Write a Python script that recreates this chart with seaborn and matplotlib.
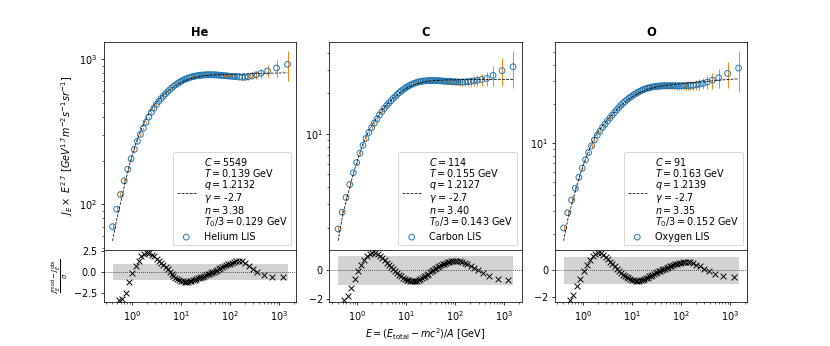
import numpy as np
import pandas as pd
import matplotlib
matplotlib.use("Agg")
import matplotlib.pyplot as plt
import seaborn as sns

# Kinetic energy per nucleon of the data points (GeV/n), shared by all panels
energy = [0.448, 0.539, 0.641, 0.758, 0.890, 1.035, 1.198, 1.377, 1.575, 1.795,
          2.036, 2.298, 2.584, 2.896, 3.234, 3.600, 3.997, 4.425, 4.893, 5.387,
          5.907, 6.477, 7.097, 7.768, 8.489, 9.261, 10.08, 10.98, 11.95, 12.97,
          14.07, 15.25, 16.49, 17.84, 19.29, 20.84, 22.49, 24.26, 26.16, 28.18,
          30.36, 32.71, 35.23, 37.93, 40.83, 43.95, 47.33, 51.08, 55.08, 59.33,
          64.08, 69.57, 75.82, 82.82, 90.82, 99.82, 110.1, 122.1, 136.6, 154.3,
          176.3, 204.1, 240.6, 291.1, 365.3, 487.1, 731.6, 1199.1]
# outer bin edges (for the +-1 sigma band)
band_energy = [0.406, 1499.1]

elements = ["He", "C", "O"]
lis_names = ["Helium LIS", "Carbon LIS", "Oxygen LIS"]

# fit parameters
fit_C = [5549, 114, 91]
fit_T = [0.139, 0.155, 0.163]
fit_q = [1.2132, 1.2127, 1.2139]
fit_gamma = [-2.7, -2.7, -2.7]
fit_n = [3.38, 3.40, 3.35]
fit_T0 = [0.129, 0.143, 0.152]

# model J_E * E^2.7
he_model = [56, 78, 102, 132, 167, 205, 244, 282, 318, 353,
            388, 420, 450, 477, 502, 525, 546, 565, 583, 599,
            614, 629, 643, 656, 668, 679, 690, 700, 709, 717,
            725, 732, 738, 744, 749, 753, 757, 761, 764, 767,
            769, 771, 773, 774.5, 776, 777, 778, 779, 779.5, 780,
            780.5, 781, 782, 782.5, 783, 784, 784.5, 785.5, 786.5, 787.5,
            789, 790.5, 792, 794, 796, 798, 800, 803]
c_model = [1.60, 2.37, 3.12, 4.01, 5.03, 6.10, 7.25, 8.38, 9.50, 10.55,
           11.50, 12.40, 13.25, 14.15, 14.95, 15.70, 16.45, 17.10, 17.75, 18.40,
           18.95, 19.55, 20.10, 20.60, 21.05, 21.50, 21.90, 22.30, 22.65, 22.95,
           23.25, 23.50, 23.72, 23.92, 24.10, 24.25, 24.38, 24.50, 24.60, 24.68,
           24.76, 24.82, 24.88, 24.93, 24.98, 25.02, 25.06, 25.09, 25.12, 25.14,
           25.16, 25.18, 25.20, 25.21, 25.22, 25.23, 25.24, 25.25, 25.26, 25.27,
           25.28, 25.29, 25.30, 25.31, 25.32, 25.33, 25.34, 25.35]
o_model = [1.78, 2.59, 3.35, 4.28, 5.34, 6.40, 7.55, 8.69, 9.85, 11.0,
           11.95, 12.8, 13.65, 14.4, 15.15, 15.9, 16.62, 17.32, 18.05, 18.75,
           19.4, 20.05, 20.65, 21.2, 21.75, 22.25, 22.75, 23.22, 23.66, 24.08,
           24.48, 24.86, 25.2, 25.52, 25.82, 26.08, 26.33, 26.56, 26.77, 26.96,
           27.12, 27.27, 27.4, 27.52, 27.64, 27.74, 27.84, 27.94, 28.03, 28.12,
           28.21, 28.3, 28.39, 28.52, 28.63, 28.75, 28.87, 29.0, 29.12, 29.24,
           29.36, 29.5, 29.65, 29.85, 30.1, 30.45, 30.8, 31.2]

# uncertainties of the LIS points
he_err = [3.9, 4.3, 4.6, 5.3, 5.8, 6.6, 7.3, 7.9, 8.3, 8.8,
          9.3, 9.7, 9.9, 10.5, 10.8, 11.0, 11.2, 11.5, 11.8, 12.1,
          12.4, 12.7, 13.0, 13.3, 13.6, 14.0, 14.3, 14.6, 14.9, 15.2,
          15.5, 15.8, 16.1, 16.4, 16.7, 17.0, 17.3, 17.6, 17.9, 18.2,
          18.5, 18.8, 19.1, 19.4, 19.7, 20.0, 20.4, 20.8, 21.2, 21.6,
          22.0, 22.5, 23.0, 23.6, 24.2, 25.0, 26.0, 27.0, 28.5, 30,
          32, 35, 40, 46, 55, 80, 120, 210]
c_err = [0.098, 0.118, 0.134, 0.155, 0.175, 0.195, 0.215, 0.24, 0.26, 0.28,
         0.30, 0.32, 0.34, 0.36, 0.38, 0.40, 0.42, 0.44, 0.46, 0.48,
         0.50, 0.52, 0.54, 0.56, 0.58, 0.60, 0.62, 0.64, 0.66, 0.67,
         0.68, 0.70, 0.72, 0.74, 0.76, 0.77, 0.78, 0.79, 0.80, 0.82,
         0.85, 0.88, 0.91, 0.94, 0.97, 1.0, 1.03, 1.06, 1.1, 1.14,
         1.18, 1.22, 1.27, 1.32, 1.37, 1.42, 1.48, 1.55, 1.62, 1.7,
         1.8, 2.0, 2.2, 2.6, 3.1, 4.5, 6.9, 9.5]
o_err = [0.13, 0.15, 0.17, 0.19, 0.21, 0.23, 0.25, 0.27, 0.29, 0.31,
         0.33, 0.35, 0.37, 0.39, 0.41, 0.43, 0.45, 0.47, 0.49, 0.51,
         0.53, 0.55, 0.57, 0.59, 0.61, 0.63, 0.65, 0.67, 0.69, 0.71,
         0.75, 0.8, 0.85, 0.9, 0.95, 1.0, 1.04, 1.08, 1.12, 1.16,
         1.2, 1.25, 1.3, 1.35, 1.4, 1.45, 1.5, 1.55, 1.6, 1.65,
         1.7, 1.75, 1.8, 1.85, 1.9, 1.95, 2.0, 2.1, 2.2, 2.3,
         2.45, 2.7, 2.9, 3.4, 4.2, 5.5, 7.8, 13.0]

# residuals (model - obs) / sigma ; first bin is not part of the fit
he_resid = [-3.6, -3.35, -3.2, -2.5, -1.2, -0.1, 0.75, 1.35, 1.85, 2.2,
            2.3, 2.25, 2.05, 1.85, 1.6, 1.35, 1.1, 0.85, 0.55, 0.3,
            0.0, -0.25, -0.5, -0.68, -0.85, -0.97, -1.06, -1.12, -1.16, -1.17,
            -1.15, -1.1, -1.04, -0.98, -0.92, -0.85, -0.78, -0.72, -0.64, -0.56,
            -0.48, -0.4, -0.3, -0.22, -0.13, -0.05, 0.05, 0.15, 0.27, 0.38,
            0.5, 0.6, 0.7, 0.8, 0.9, 1.0, 1.08, 1.17, 1.25, 1.3,
            1.28, 1.05, 0.7, 0.35, -0.05, -0.35, -0.55, -0.55]
c_resid = [-3.67, -2.09, -1.8, -1.23, -0.6, -0.07, 0.4, 0.74, 1.02, 1.17,
           1.25, 1.24, 1.15, 1.0, 0.85, 0.7, 0.55, 0.4, 0.25, 0.1,
           -0.02, -0.15, -0.3, -0.42, -0.52, -0.6, -0.66, -0.71, -0.74, -0.76,
           -0.77, -0.76, -0.72, -0.66, -0.6, -0.53, -0.45, -0.38, -0.3, -0.22,
           -0.14, -0.06, 0.02, 0.1, 0.18, 0.26, 0.32, 0.38, 0.44, 0.48,
           0.52, 0.56, 0.6, 0.63, 0.65, 0.67, 0.67, 0.65, 0.6, 0.52,
           0.42, 0.3, 0.15, 0.0, -0.15, -0.42, -0.6, -0.65]
o_resid = [-3.5, -2.25, -1.83, -1.2, -0.63, -0.08, 0.38, 0.8, 1.1, 1.28,
           1.35, 1.32, 1.18, 1.02, 0.85, 0.66, 0.47, 0.3, 0.13, -0.03,
           -0.17, -0.31, -0.43, -0.53, -0.6, -0.66, -0.71, -0.75, -0.78, -0.8,
           -0.79, -0.76, -0.71, -0.66, -0.6, -0.54, -0.46, -0.4, -0.33, -0.26,
           -0.2, -0.14, -0.08, -0.02, 0.03, 0.08, 0.14, 0.2, 0.26, 0.31,
           0.36, 0.41, 0.46, 0.51, 0.55, 0.59, 0.62, 0.64, 0.65, 0.62,
           0.55, 0.43, 0.3, 0.12, -0.08, -0.25, -0.45, -0.5]

models = [he_model, c_model, o_model]
errors = [he_err, c_err, o_err]
resids = [he_resid, c_resid, o_resid]


def fit_label(i):
    return "\n".join([
        f"$C = {fit_C[i]}$",
        f"$T = {fit_T[i]:.3f}$ GeV",
        f"$q = {fit_q[i]:.4f}$",
        f"$\\gamma$ = {fit_gamma[i]}",
        f"$n = {fit_n[i]:.2f}$",
        f"$T_0/3 = {fit_T0[i]:.3f}$ GeV",
    ])


fig = plt.figure(figsize=(12, 5), dpi=69.2)
gs = fig.add_gridspec(2, 3, height_ratios=[4, 1], hspace=0, wspace=0.172,
                      left=0.125, right=0.9, top=0.879, bottom=0.126)

for i, elem in enumerate(elements):
    ax = fig.add_subplot(gs[0, i])
    ax_r = fig.add_subplot(gs[1, i])

    df = pd.DataFrame({"E": energy, "model": models[i],
                       "err": errors[i], "resid": resids[i]})
    df["obs"] = df["model"] - df["resid"] * df["err"]

    # spectrum
    ax.errorbar(df["E"], df["obs"], yerr=df["err"], fmt="none",
                ecolor="C1", elinewidth=1, zorder=1)
    sns.lineplot(data=df, x="E", y="model", ax=ax, color="k", linestyle="--",
                 linewidth=0.8, label=fit_label(i), zorder=3)
    sns.scatterplot(data=df, x="E", y="obs", ax=ax, marker="o", s=36,
                    facecolor="none", edgecolor="C0", linewidth=1,
                    label=lis_names[i], zorder=2)
    ax.set_xscale("log")
    ax.set_yscale("log")
    ax.tick_params(axis="x", which="both", bottom=False, labelbottom=False)
    ax.set_xlabel("")
    ax.set_ylabel("")
    ax.set_title(elem, fontweight="bold")
    leg = ax.legend(loc="lower right", labelspacing=0.3)
    leg.get_texts()[0].set_linespacing(0.9)

    # residuals
    fit_pts = df.iloc[1:]
    ax_r.fill_between(band_energy, -1, 1, color="lightgray", linewidth=0, zorder=0)
    ax_r.axhline(0, color="k", linestyle=":", linewidth=0.8, zorder=1)
    sns.scatterplot(data=fit_pts, x="E", y="resid", ax=ax_r, marker="x",
                    color="k", s=36, linewidth=1, zorder=2)
    ax_r.set_xscale("log")
    ax_r.set_xlabel("")
    ax_r.set_ylabel("")

    if i == 0:
        ax.set_ylabel(r"$J_E \times\ E^{2.7}\ [GeV^{1.7} m^{-2} s^{-1} sr^{-1}]$")
        ax_r.set_ylabel(r"$\frac{J_E^{\rm mod} - J_E^{\rm obs}}{\sigma}$")
    if i == 1:
        ax_r.set_xlabel(r"$E = (E_{\rm total} - mc^2)/A$ [GeV]")

fig.savefig("out.png", dpi=69.2)
